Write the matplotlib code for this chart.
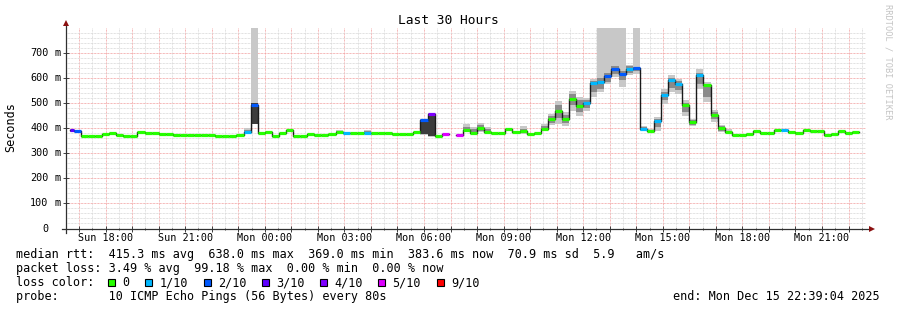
import numpy as np
import matplotlib
matplotlib.use("Agg")
import matplotlib.pyplot as plt
from matplotlib import transforms
from matplotlib.patches import Rectangle

# ---------------- data ----------------
start_hour = 16 + 39 / 60 + 4 / 3600      # Sun 16:39:04, hours since Sun 00:00
span_hours = 30
first_boundary = 16.8                      # Sun 16:48
step_hours = 16 / 60                       # 16 minute consolidated steps

median_ms = [392, 387, 367, 367, 367, 377, 382, 373, 367, 367,
             386, 381, 381, 377, 377, 373, 373, 373, 373, 373,
             373, 369, 369, 369, 373, 385, 492, 379, 386, 370,
             382, 391, 367, 369, 378, 373, 373, 378, 386, 382,
             382, 380, 382, 381, 380, 380, 377, 375, 375, 386,
             432, 456, 370, 377, np.nan, 371, 392, 382, 399, 385,
             382, 382, 395, 383, 390, 377, 381, 398, 435, 468,
             437, 516, 488, 500, 578, 585, 605, 634, 614, 635,
             638, 395, 390, 426, 533, 590, 577, 490, 423, 610,
             570, 453, 399, 385, 374, 374, 378, 387, 382, 379,
             392, 394, 385, 381, 391, 389, 390, 374, 378, 387,
             379, 383.6]

loss_tenths = [3, 2, 0, 0, 0, 0, 0, 0, 0, 0,
               0, 0, 0, 0, 0, 0, 0, 0, 0, 0,
               0, 0, 0, 0, 0, 1, 2, 0, 0, 0,
               0, 0, 0, 0, 0, 0, 0, 0, 0, 1,
               0, 0, 1, 0, 0, 0, 0, 0, 0, 0,
               2, 4, 0, 5, 0, 5, 0, 0, 0, 0,
               0, 0, 0, 0, 0, 0, 0, 0, 0, 0,
               0, 0, 0, 1, 1, 1, 2, 2, 2, 1,
               2, 1, 0, 1, 1, 1, 1, 0, 0, 1,
               0, 0, 0, 0, 0, 0, 0, 0, 0, 0,
               0, 1, 0, 0, 0, 0, 0, 0, 0, 0,
               0, 0]

# smoke (spread of the individual pings) for steps where it is visible
smoke_steps = [0, 25, 26, 38, 42, 50, 51, 56, 57, 58, 59, 64, 67, 68, 69, 70,
               71, 72, 73, 74, 75, 76, 77, 78, 79, 80, 81, 82, 83, 84, 85, 86,
               87, 88, 89, 90, 91, 92, 93]
smoke_out_lo = [383, 383, 416, 384, 380, 372, 366, 388, 380, 383, 383, 377, 390, 410, 416, 406,
                469, 449, 467, 525, 542, 575, 602, 565, 609, 615, 390, 386, 390, 496, 542, 536,
                449, 407, 556, 502, 423, 383, 380]
smoke_in_lo = [386, 385, 416, 386, 382, 377, 368, 390, 382, 390, 384, 383, 393, 420, 440, 420,
               490, 465, 480, 545, 555, 585, 615, 590, 620, 625, 392, 388, 405, 510, 560, 550,
               465, 413, 575, 525, 435, 390, 382]
smoke_in_hi = [392, 394, 500, 390, 388, 432, 456, 405, 396, 410, 396, 398, 408, 448, 490, 452,
               535, 510, 512, 588, 598, 620, 645, 625, 645, 642, 402, 393, 435, 545, 600, 588,
               500, 430, 620, 575, 462, 408, 390]
smoke_out_hi = [395, 401, 820, 394, 392, 436, 458, 416, 404, 420, 404, 406, 414, 456, 509, 463,
                549, 525, 520, 596, 820, 820, 820, 820, 652, 820, 406, 395, 443, 556, 610, 596,
                510, 437, 633, 583, 470, 413, 396]
dark_smoke_steps = [26, 50, 51]

loss_colors = {0: "#26ff00", 1: "#00b8ff", 2: "#0059ff", 3: "#5e00ff",
               4: "#7e00ff", 5: "#dd00ff", 9: "#ff0000"}
legend_loss = [0, 1, 2, 3, 4, 5, 9]
legend_labels = ["0", "1/10", "2/10", "3/10", "4/10", "5/10", "9/10"]

xtick_hours = [18, 21, 24, 27, 30, 33, 36, 39, 42, 45]
xtick_labels = ["Sun 18:00", "Sun 21:00", "Mon 00:00", "Mon 03:00", "Mon 06:00",
                "Mon 09:00", "Mon 12:00", "Mon 15:00", "Mon 18:00", "Mon 21:00"]
ytick_values = [0, 100, 200, 300, 400, 500, 600, 700]
ytick_numbers = ["0", "100", "200", "300", "400", "500", "600", "700"]
ytick_units = ["", "m", "m", "m", "m", "m", "m", "m"]

legend_line1 = "median rtt:  415.3 ms avg  638.0 ms max  369.0 ms min  383.6 ms now  70.9 ms sd  5.9   am/s"
legend_line2 = "packet loss: 3.49 % avg  99.18 % max  0.00 % min  0.00 % now"
legend_line3 = "loss color:"
legend_line4 = "probe:       10 ICMP Echo Pings (56 Bytes) every 80s"
end_text = "end: Mon Dec 15 22:39:04 2025"
title = "Last 30 Hours"

# ---------------- figure ----------------
W, H = 897, 310
MONO = "DejaVu Sans Mono"
fig = plt.figure(figsize=(W / 100, H / 100), dpi=100, facecolor="white")

def fx(px):
    return px / W

def fy(py):
    return 1 - py / H

ax_left, ax_right, ax_top, ax_bottom = 65.8, 865.8, 27.5, 228.5
ax = fig.add_axes([fx(ax_left), fy(ax_bottom), (ax_right - ax_left) / W,
                   (ax_bottom - ax_top) / H])
ax.set_facecolor("white")
ax.set_xlim(start_hour, start_hour + span_hours)
ax.set_ylim(0, 800)
for s in ax.spines.values():
    s.set_visible(False)

# grid
ax.set_xticks(np.arange(17, 47, 1))
ax.set_xticks(np.arange(16.5, 47, 1), minor=True)
ax.set_yticks(np.arange(0, 701, 100))
ax.set_yticks(np.arange(0, 781, 20), minor=True)
ax.set_xticklabels([])
ax.set_yticklabels([])
ax.grid(which="minor", color="#d8d8d8", linestyle=(0, (0.72, 0.72)), linewidth=0.72, zorder=0)
ax.grid(which="major", color="#f2a0a0", linestyle=(0, (0.72, 0.72)), linewidth=0.72, zorder=0)
ax.tick_params(which="major", direction="inout", length=4, width=0.7, color="#404040")
ax.tick_params(which="minor", direction="inout", length=2, width=0.7, color="#404040")
ax.tick_params(axis="x", which="both", top=False)
ax.tick_params(axis="y", which="both", right=False)
ax.tick_params(axis="y", which="minor", left=False)
ax.set_axisbelow(True)

# step edges
n = len(median_ms)
edges = np.concatenate([[start_hour], first_boundary + step_hours * np.arange(n)])
lefts = edges[:-1]
widths = np.diff(edges)
vals = np.array(median_ms, dtype=float)

# smoke
for k, i in enumerate(smoke_steps):
    ax.bar(lefts[i], smoke_out_hi[k] - smoke_out_lo[k], width=widths[i],
           bottom=smoke_out_lo[k], align="edge", color="#c8c8c8", linewidth=0, zorder=1)
    inner_col = "#3c3c3c" if i in dark_smoke_steps else "#8a8a8a"
    ax.bar(lefts[i], smoke_in_hi[k] - smoke_in_lo[k], width=widths[i],
           bottom=smoke_in_lo[k], align="edge", color=inner_col, linewidth=0, zorder=1.5)

# median line
ax.step(edges, np.append(vals, vals[-1]), where="post", color="#1a1a1a",
        linewidth=1.0, zorder=2)
cols = [loss_colors[l] for l in loss_tenths]
ax.hlines(vals, edges[:-1], edges[1:], colors=cols, linewidth=2.3, zorder=3,
          capstyle="butt")

# axes lines + arrows
ax.plot([-4 / 800, 1 + 4 / 800], [0, 0], transform=ax.transAxes, color="#303030",
        linewidth=0.9, clip_on=False, zorder=4)
ax.plot([0, 0], [-4 / 201, 1 + 2 / 201], transform=ax.transAxes, color="#303030",
        linewidth=0.9, clip_on=False, zorder=4)
ax.plot([1 + 6 / 800], [0], marker=">", markersize=4, color="#8b1010",
        transform=ax.transAxes, clip_on=False, zorder=5, markeredgewidth=0)
ax.plot([0], [1 + 5 / 201], marker="^", markersize=4, color="#8b1010",
        transform=ax.transAxes, clip_on=False, zorder=5, markeredgewidth=0)

# tick labels
ytrans = transforms.blended_transform_factory(fig.transFigure, ax.transData)
for v, num, unit in zip(ytick_values, ytick_numbers, ytick_units):
    ax.text(fx(48.6), v, num, transform=ytrans, ha="right", va="center",
            fontsize=7.25, family=MONO, color="black")
    if unit:
        ax.text(fx(54.0), v, unit, transform=ytrans, ha="left", va="center",
                fontsize=7.25, family=MONO, color="black")
xtrans = transforms.blended_transform_factory(ax.transData, fig.transFigure)
for h, lab in zip(xtick_hours, xtick_labels):
    ax.text(h, fy(241.2), lab, transform=xtrans, ha="center", va="baseline",
            fontsize=7.25, family=MONO, color="black")

# title, unit label, watermark
fig.text(fx(448.5), fy(24), title, ha="center", va="baseline", fontsize=9.3,
         family=MONO, color="black")
fig.text(fx(11), fy(127), "Seconds", rotation=90, ha="center", va="center",
         fontsize=8.45, family=MONO, color="black")
fig.text(fx(887.5), fy(4), "RRDTOOL / TOBI OETIKER", rotation=-90, ha="center",
         va="top", fontsize=6.2, family=MONO, color="#c4c4c4")

# legend
LX = 16
fig.text(fx(LX), fy(258.2), legend_line1, ha="left", va="baseline", fontsize=8.45, family=MONO)
fig.text(fx(LX), fy(272.2), legend_line2, ha="left", va="baseline", fontsize=8.45, family=MONO)
fig.text(fx(LX), fy(286.2), legend_line3, ha="left", va="baseline", fontsize=8.45, family=MONO)
fig.text(fx(LX), fy(300.2), legend_line4, ha="left", va="baseline", fontsize=8.45, family=MONO)
fig.text(fx(880), fy(300.2), end_text, ha="right", va="baseline", fontsize=8.45, family=MONO)

char_w = 7.07
sq_x = 108.3
for l, lab in zip(legend_loss, legend_labels):
    fig.patches.append(Rectangle((fx(sq_x), fy(285.7)), 7 / W, 7 / H,
                                 transform=fig.transFigure, facecolor=loss_colors[l],
                                 edgecolor="black", linewidth=0.8))
    tx = sq_x + 14
    fig.text(fx(tx), fy(286.2), lab, ha="left", va="baseline", fontsize=8.45, family=MONO)
    sq_x = tx + len(lab) * char_w + 16

fig.savefig("out.png", dpi=100, facecolor="white")
